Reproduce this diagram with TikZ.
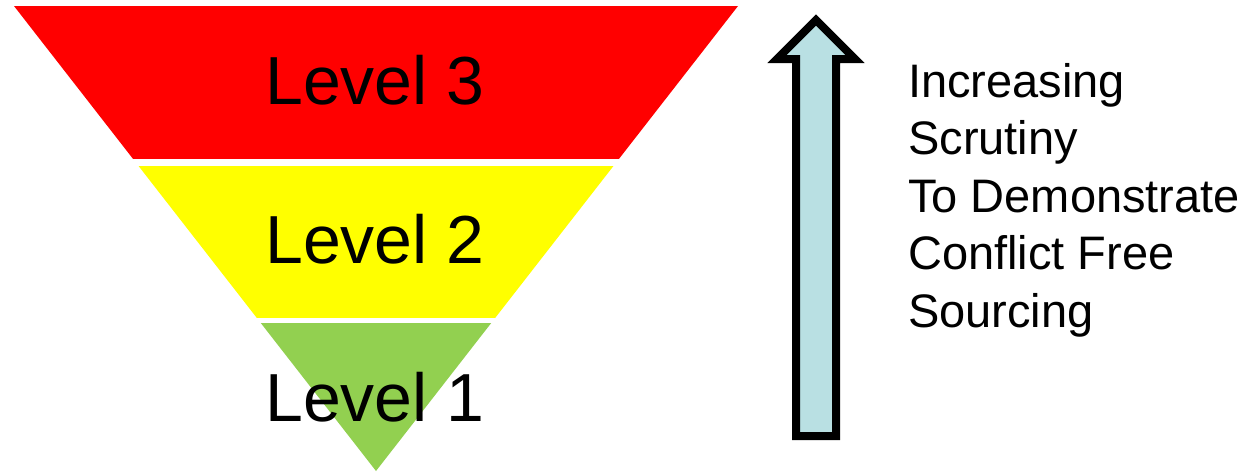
\documentclass[tikz,border=0pt]{standalone}
\usepackage{fontspec}
\setmainfont{Liberation Sans}
\definecolor{lvlred}{RGB}{255,0,0}
\definecolor{lvlyellow}{RGB}{255,255,0}
\definecolor{lvlgreen}{RGB}{146,208,80}
\definecolor{arrowblue}{RGB}{185,224,227}
\tikzset{
  lvllabel/.style={anchor=base west, inner sep=0pt, font=\fontsize{68}{82}\selectfont},
  sidetext/.style={anchor=north west, inner sep=0pt, align=left, font=\fontsize{47}{57.5}\selectfont},
  bigarrow/.style={draw=black, line width=8pt, line join=miter, fill=arrowblue}
}
\begin{document}
\begin{tikzpicture}[x=1pt,y=-1pt]
\useasboundingbox (0,0) rectangle (1253,472);
\begin{scope}
  \clip (14,6) -- (738,6) -- (376,471) -- cycle;
  \fill[lvlred] (0,6) rectangle (800,158.5);
  \fill[lvlyellow] (0,165.5) rectangle (800,317.5);
  \fill[lvlgreen] (0,322.5) rectangle (800,472);
\end{scope}
\node[lvllabel] (l3) at (265,104) {Level 3};
\node[lvllabel] (l2) at (265,263) {Level 2};
\node[lvllabel] (l1) at (265,421) {Level 1};
\draw[bigarrow] (796,436) -- (796,59) -- (777,59) -- (816,20) -- (855,59) -- (836,59) -- (836,436) -- cycle;
\node[sidetext] (txt) at (908,63) {Increasing\\Scrutiny\\To Demonstrate\\Conflict Free\\Sourcing};
\end{tikzpicture}
\end{document}
